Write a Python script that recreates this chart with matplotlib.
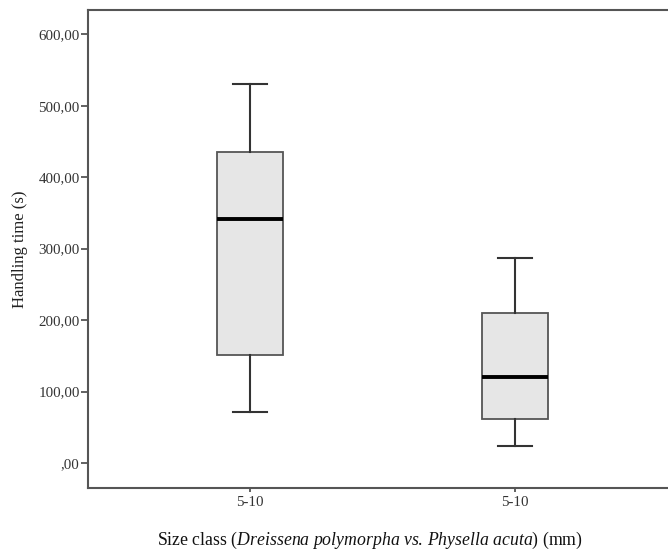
import matplotlib.pyplot as plt
from matplotlib.ticker import FuncFormatter

plt.rcParams['font.family'] = 'Liberation Serif'
plt.rcParams['mathtext.fontset'] = 'custom'
plt.rcParams['mathtext.rm'] = 'Liberation Serif'
plt.rcParams['mathtext.it'] = 'Liberation Serif:italic'

# box statistics (seconds)
groups = ['5-10', '5-10']
whisker_low = [71, 24]
q1 = [151, 61]
medians = [341, 121]
q3 = [435, 210]
whisker_high = [530, 287]
y_ticks = [0, 100, 200, 300, 400, 500, 600]

stats = []
for i in range(len(groups)):
    stats.append({
        'label': groups[i],
        'whislo': whisker_low[i],
        'q1': q1[i],
        'med': medians[i],
        'q3': q3[i],
        'whishi': whisker_high[i],
        'fliers': [],
    })

edge = '#555555'
fig = plt.figure(figsize=(6.68, 5.55), dpi=100)
ax = fig.add_axes([88 / 668, 67 / 555, 589 / 668, 478 / 555])

ax.bxp(stats, positions=[1, 2], widths=0.25, patch_artist=True,
       boxprops=dict(facecolor='#e6e6e6', edgecolor=edge, linewidth=1.3),
       whiskerprops=dict(color='#333333', linewidth=1.5),
       capprops=dict(color='#333333', linewidth=1.5),
       medianprops=dict(color='black', linewidth=2.8))

ax.set_xlim(0.389, 2.611)
ax.set_ylim(-35, 634)
ax.set_yticks(y_ticks)


def comma_fmt(v, pos):
    if v == 0:
        return ',00'
    return f'{v:.2f}'.replace('.', ',')


ax.yaxis.set_major_formatter(FuncFormatter(comma_fmt))
ax.tick_params(axis='y', direction='out', length=5, width=1.3,
               color=edge, labelsize=10.8, labelcolor='#333333', pad=1)
ax.tick_params(axis='x', direction='out', length=3, width=1.3,
               color=edge, labelsize=10.8, labelcolor='#333333', pad=3)

for s in ax.spines.values():
    s.set_color(edge)
    s.set_linewidth(1.5)
# right edge of the frame is cut off in the original
ax.spines['right'].set_visible(False)

fig.text(20 / 668, 1 - 249 / 555, 'Handling time (s)', rotation=90,
         ha='center', va='center', fontsize=12, color='#222222')
fig.text(370 / 668, 1 - 540 / 555,
         r'Size class ($\mathit{Dreissena\ polymorpha\ vs.Physella\ acuta}$) (mm)'
         .replace('vs.Physella', 'vs.\\,Physella'),
         ha='center', va='center', fontsize=12.8, color='#111111')

fig.savefig('out.png', dpi=100)
